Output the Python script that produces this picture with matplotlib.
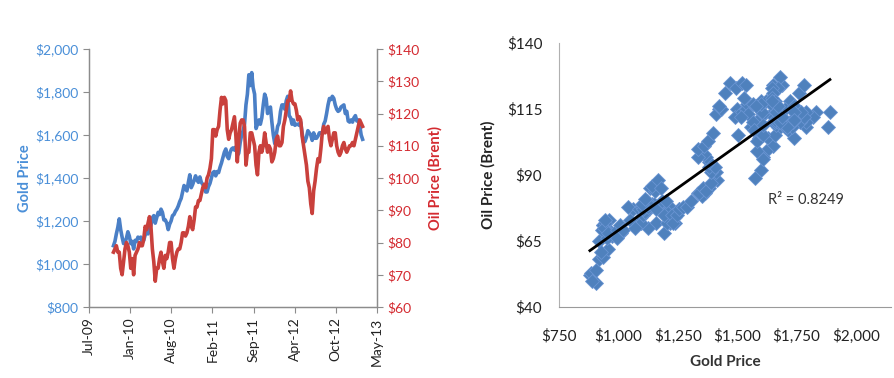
import datetime
import numpy as np
import pandas as pd
import matplotlib
matplotlib.use("Agg")
import matplotlib.pyplot as plt
import matplotlib.dates as mdates

plt.rcParams['font.family'] = ['Lato', 'DejaVu Sans']

# weekly prices (Mondays) shown in the time-series panel, from 2009-11-02
start_date = "2009-11-02"
gold = [1085, 1105, 1140, 1170, 1210,
        1160, 1125, 1095, 1100,
        1120, 1150, 1130, 1095,
        1105, 1070, 1110, 1105,
        1125, 1120, 1125, 1100, 1110,
        1135, 1155, 1140, 1165,
        1180, 1215, 1225, 1190, 1215,
        1240, 1230, 1255, 1240,
        1205, 1205, 1190, 1160,
        1185, 1200, 1225, 1230, 1245,
        1255, 1270, 1290, 1305,
        1335, 1365, 1350, 1340,
        1380, 1415, 1355, 1370, 1390,
        1410, 1390, 1380, 1405,
        1380, 1370, 1360, 1335,
        1335, 1360, 1375, 1400, 1425,
        1430, 1410, 1430, 1425,
        1450, 1470, 1495, 1520,
        1535, 1500, 1490, 1520, 1535,
        1540, 1530, 1545, 1505,
        1515, 1565, 1600, 1620,
        1650, 1740, 1790, 1880, 1830,
        1890, 1820, 1790, 1630,
        1650, 1670, 1650, 1680,
        1740, 1790, 1770, 1700, 1720,
        1730, 1660, 1600, 1560,
        1600, 1640, 1655, 1710,
        1740, 1740, 1720, 1760, 1780,
        1690, 1680, 1650, 1670,
        1645, 1650, 1650, 1645,
        1660, 1610, 1565, 1570, 1590,
        1620, 1610, 1600, 1575,
        1610, 1585, 1585, 1595, 1610,
        1610, 1605, 1650, 1665,
        1700, 1740, 1770, 1765,
        1780, 1770, 1740, 1720, 1710,
        1715, 1730, 1735, 1740,
        1700, 1710, 1665, 1660, 1670,
        1660, 1680, 1690, 1665,
        1670, 1645, 1600, 1580]

oil = [77, 78, 79, 77, 77,
       72, 70, 74, 78,
       80, 79, 77, 72,
       75, 70, 76, 77,
       78, 80, 79, 79, 81,
       85, 84, 86, 88,
       85, 78, 74, 68, 72,
       72, 75, 77, 74,
       72, 76, 75, 77,
       80, 80, 75, 72, 75,
       77, 78, 78, 80,
       83, 83, 82, 83,
       85, 88, 85, 84, 87,
       91, 91, 93, 93,
       95, 97, 98, 97,
       100, 101, 103, 106, 115,
       115, 113, 115, 116,
       121, 125, 123, 125,
       124, 115, 112, 114, 115,
       117, 119, 113, 105,
       112, 117, 118, 118,
       116, 104, 108, 108, 114,
       114, 112, 110, 104,
       101, 108, 110, 108,
       110, 114, 111, 108, 110,
       109, 105, 106, 108,
       112, 113, 110, 110,
       111, 116, 118, 121, 124,
       124, 127, 124, 123,
       123, 121, 118, 119,
       118, 113, 110, 107, 104,
       99, 97, 92, 89,
       96, 99, 103, 106, 105,
       109, 114, 116, 114,
       115, 116, 112, 110,
       112, 114, 114, 110, 108,
       107, 108, 110, 111,
       109, 108, 109, 110, 110,
       111, 110, 112, 114,
       116, 118, 117, 116]

# earlier weeks (Apr-Oct 2009) that only appear in the scatter
gold_early = [880, 885, 905, 890, 905, 920, 935, 955, 975, 950, 935, 930, 935, 920, 925,
              950, 945, 960, 945, 940, 945, 955, 995, 1005, 1010, 995, 1020, 1050, 1060, 1040]
oil_early = [52, 53, 49, 50, 54, 58, 59, 62, 67, 70, 71, 69, 71, 65, 61,
             66, 70, 73, 72, 70, 73, 68, 69, 71, 68, 66, 69, 73, 77, 78]

gold_ticks = [800, 1000, 1200, 1400, 1600, 1800, 2000]
oil_ticks = [60, 70, 80, 90, 100, 110, 120, 130, 140]
scatter_xticks = [750, 1000, 1250, 1500, 1750, 2000]
scatter_yticks = [40, 65, 90, 115, 140]
r2_label = "R² = 0.8249"

dates = pd.date_range(start_date, periods=len(gold), freq="7D")

BLUE = "#4A7FC6"
RED = "#C9403C"
BLUE_TXT = "#4A8FD8"
RED_TXT = "#D42A30"
AXIS = "#8C8C8C"

fig = plt.figure(figsize=(8.94, 3.78), dpi=100)

# ---- left: time series with twin axes ----
ax1 = fig.add_axes([89/894, 1-307/378, 288/894, 258/378])
ax2 = ax1.twinx()

ax1.plot(dates, gold, color=BLUE, lw=2.6, solid_joinstyle="round")
ax2.plot(dates, oil, color=RED, lw=2.6, solid_joinstyle="round")

x0 = datetime.datetime(2009, 7, 6)
xticks = [x0 + datetime.timedelta(days=200*k) for k in range(8)]
ax1.set_xlim(xticks[0], xticks[-1])
ax1.set_xticks(xticks)
ax1.xaxis.set_major_formatter(mdates.DateFormatter("%b-%y"))
for lab in ax1.get_xticklabels():
    lab.set_rotation(90)
ax1.tick_params(axis="x", labelsize=10, colors=AXIS, labelcolor="#222222", length=4)

ax1.set_ylim(800, 2000)
ax1.set_yticks(gold_ticks)
ax1.set_yticklabels(["${:,}".format(v) for v in gold_ticks])
ax1.tick_params(axis="y", labelsize=10, colors=AXIS, labelcolor=BLUE_TXT, length=4)
ax1.set_ylabel("Gold Price", color=BLUE_TXT, fontsize=10.5, fontweight="bold", labelpad=2)

ax2.set_ylim(60, 140)
ax2.set_yticks(oil_ticks)
ax2.set_yticklabels(["${}".format(v) for v in oil_ticks])
ax2.tick_params(axis="y", labelsize=10, colors=AXIS, labelcolor=RED_TXT, length=4)
ax2.set_ylabel("Oil Price (Brent)", color=RED_TXT, fontsize=10.5, fontweight="bold", labelpad=6)

for a in (ax1, ax2):
    a.spines["top"].set_visible(False)
    for s in ("left", "right", "bottom"):
        a.spines[s].set_color(AXIS)
        a.spines[s].set_linewidth(0.9)

# ---- right: scatter gold vs oil ----
sx = np.array(gold_early + gold, dtype=float)
sy = np.array(oil_early + oil, dtype=float)

ax3 = fig.add_axes([559/894, 1-307/378, 332/894, 264/378])
ax3.plot(sx, sy, linestyle="none", marker="D", markersize=6.8,
         color="#4F81BD", markeredgecolor="#6A95D3", markeredgewidth=0.6)
k, b = np.polyfit(sx, sy, 1)
fx = np.array([sx.min(), sx.max()])
ax3.plot(fx, k*fx + b, color="black", lw=2)
ax3.text(1630, 80.5, r2_label, fontsize=10.5, color="#333333", va="center", ha="left")

ax3.set_xlim(750, 2147)
ax3.set_ylim(40, 140)
ax3.set_xticks(scatter_xticks)
ax3.set_xticklabels(["${:,}".format(v) for v in scatter_xticks])
ax3.set_yticks(scatter_yticks)
ax3.set_yticklabels(["${}".format(v) for v in scatter_yticks])
ax3.tick_params(length=0, labelsize=11, labelcolor="#222222")
ax3.tick_params(axis="x", pad=16)
ax3.tick_params(axis="y", pad=12)
ax3.set_xlabel("Gold Price", fontsize=11, fontweight="bold", color="#333333", labelpad=8)
ax3.set_ylabel("Oil Price (Brent)", fontsize=11, fontweight="bold", color="#222222", labelpad=8)
ax3.spines["top"].set_visible(False)
ax3.spines["right"].set_visible(False)
ax3.spines["left"].set_color("#B0B0B0")
ax3.spines["bottom"].set_color("#9A9A9A")
ax3.spines["bottom"].set_linestyle((0, (1, 1)))

fig.savefig("out.png", dpi=100)
